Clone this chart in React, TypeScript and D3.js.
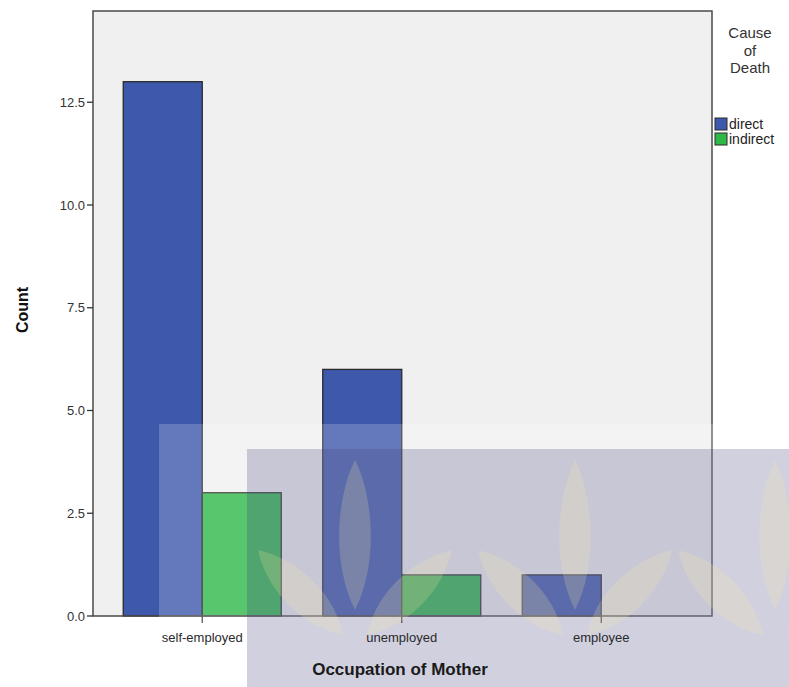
import React from "react";
import * as d3 from "d3";

const categories = ["self-employed", "unemployed", "employee"];
const seriesNames = ["direct", "indirect"];
const directValues = [13, 6, 1];
const indirectValues = [3, 1, 0];
const yTicks = [0, 2.5, 5, 7.5, 10, 12.5];
const colors = ["#3e58ab", "#2eb848"];

export default function App() {
  const W = 789, H = 687;
  const left = 93, right = 712, top = 11, bottom = 616;
  const y = d3.scaleLinear().domain([0, 14.72]).range([bottom, top]);
  const x = d3.scaleBand().domain(categories).range([102.5, 701]).paddingInner(0).paddingOuter(0);
  const inner = d3.scaleBand().domain(seriesNames).range([0, 158]);
  const groupOffset = (x.bandwidth() - 158) / 2;
  const values = [directValues, indirectValues];
  const font = "Arial, 'Liberation Sans', sans-serif";

  const leaf = (cx: number, cy: number, h: number, w: number, rot: number) => {
    const p = `M0,0 C${w},${-h * 0.35} ${w * 0.6},${-h * 0.8} 0,${-h} C${-w * 0.6},${-h * 0.8} ${-w},${-h * 0.35} 0,0 Z`;
    return <path d={p} transform={`translate(${cx},${cy}) rotate(${rot})`} fill="rgba(250,236,160,0.2)" />;
  };
  const motif = (cx: number, cy: number, k: number) => (
    <g key={`m${k}`}>
      {leaf(cx, cy, 150, 26, 0)}
      {leaf(cx - 12, cy + 25, 120, 28, -45)}
      {leaf(cx + 12, cy + 25, 120, 28, 45)}
    </g>
  );

  return (
    <svg width={W} height={H} style={{ display: "block", position: "absolute", left: 0, top: 0 }}>
      <rect x={0} y={0} width={W} height={H} fill="#ffffff" />
      <rect x={left} y={top} width={right - left} height={bottom - top} fill="#f0f0f0" />
      {categories.map((c, i) =>
        seriesNames.map((s, j) => {
          const v = values[j][i];
          if (!v) return null;
          const bx = (x(c) as number) + groupOffset + (inner(s) as number);
          return (
            <rect key={c + s} x={bx} y={y(v)} width={inner.bandwidth()} height={y(0) - y(v)}
              fill={colors[j]} stroke="#2a2a2a" strokeWidth={1.3} />
          );
        })
      )}
      <rect x={left} y={top} width={right - left} height={bottom - top} fill="none" stroke="#4a4a4a" strokeWidth={1.5} />
      {yTicks.map((t) => (
        <line key={t} x1={left - 6} x2={left} y1={y(t)} y2={y(t)} stroke="#333" strokeWidth={1.3} />
      ))}
      {categories.map((c) => {
        const cx = (x(c) as number) + x.bandwidth() / 2;
        return <line key={c} x1={cx} x2={cx} y1={bottom} y2={bottom + 7} stroke="#333" strokeWidth={1.3} />;
      })}
      {/* watermark overlay */}
      <rect x={159} y={424} width={W - 159} height={H - 424} fill="rgba(255,255,255,0.2)" />
      <rect x={247} y={449} width={W - 247} height={H - 449} fill="rgba(60,60,120,0.24)" />
      <g>
        {[355, 575, 775].map((cx, k) => motif(cx, 610, k))}
      </g>
      {yTicks.map((t) => (
        <text key={t} x={left - 8} y={y(t)} dy="0.35em" textAnchor="end" fontFamily={font} fontSize={13} fill="#333">{t.toFixed(1)}</text>
      ))}
      {categories.map((c) => {
        const cx = (x(c) as number) + x.bandwidth() / 2;
        return <text key={c} x={cx} y={637} dy="0.35em" textAnchor="middle" fontFamily={font} fontSize={13} fill="#2a2a2a">{c}</text>;
      })}
      <text x={400} y={669} dy="0.35em" textAnchor="middle" fontFamily={font} fontSize={17} fontWeight="bold" fill="#1a1a1a">Occupation of Mother</text>
      <text transform="translate(22,310) rotate(-90)" dy="0.35em" textAnchor="middle" fontFamily={font} fontSize={16} fontWeight="bold" fill="#111">Count</text>
      {["Cause", "of", "Death"].map((t, i) => (
        <text key={t} x={750} y={33 + i * 17.5} dy="0.35em" textAnchor="middle" fontFamily={font} fontSize={15} fill="#333">{t}</text>
      ))}
      {seriesNames.map((s, j) => (
        <g key={s}>
          <rect x={715} y={118 + j * 15} width={12} height={12} fill={colors[j]} stroke="#2a2a2a" strokeWidth={1} />
          <text x={729} y={124 + j * 15} dy="0.35em" fontFamily={font} fontSize={14} fill="#222">{s}</text>
        </g>
      ))}
    </svg>
  );
}
